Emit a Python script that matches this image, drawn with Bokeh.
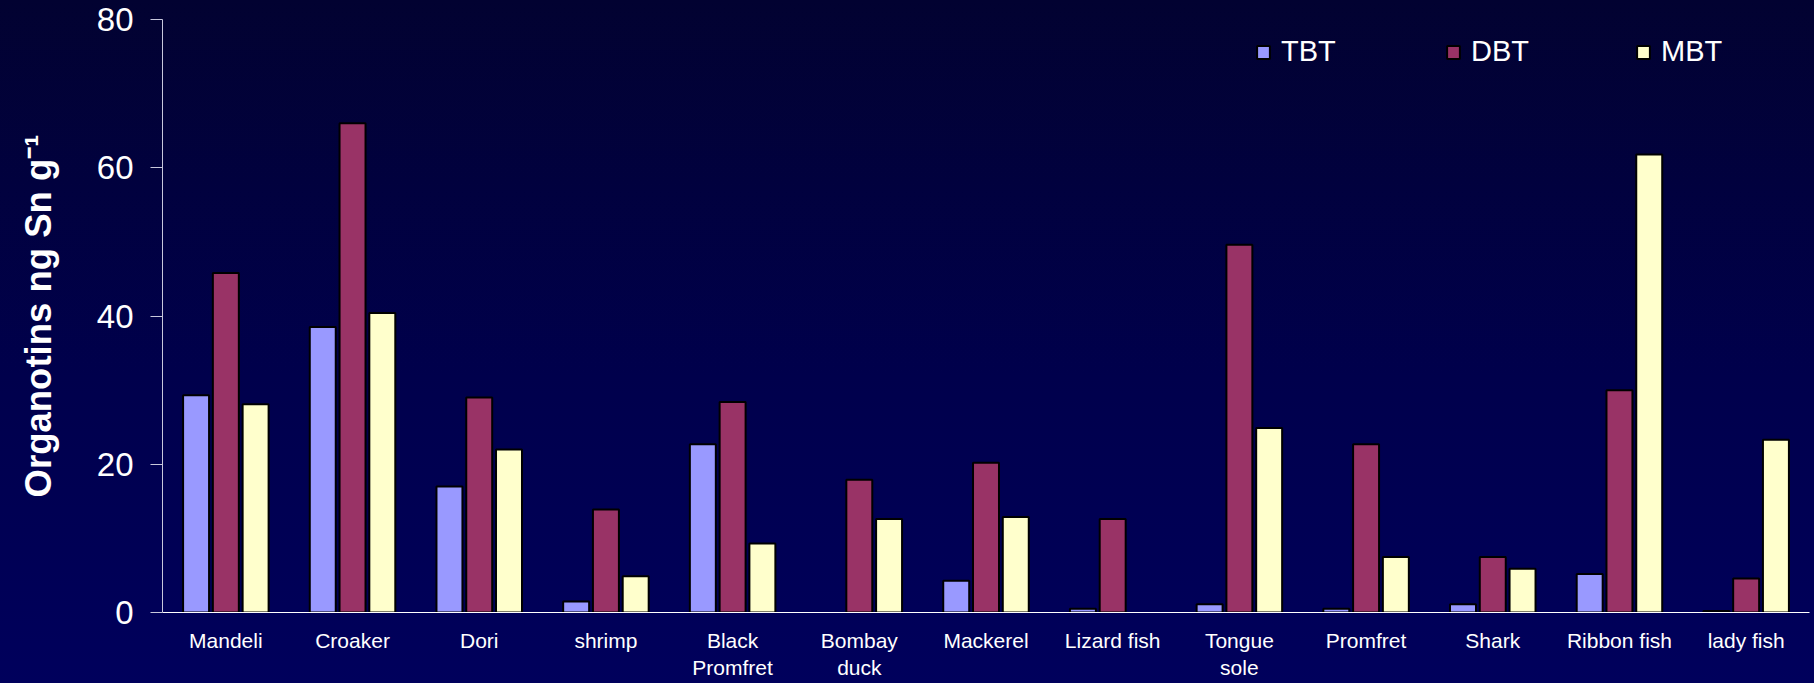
from bokeh.plotting import figure
from bokeh.models import ColumnDataSource, FactorRange, Range1d, Legend, LegendItem
from bokeh.transform import dodge
from bokeh.embed import file_html
from bokeh.resources import INLINE

# Organotin concentrations (ng Sn g-1) by species
categories = ["Mandeli", "Croaker", "Dori", "shrimp", "Black\nPromfret", "Bombay\nduck",
              "Mackerel", "Lizard fish", "Tongue\nsole", "Promfret", "Shark",
              "Ribbon fish", "lady fish"]
tbt = [29.3, 38.5, 17.0, 1.5, 22.7, 0.0, 4.3, 0.5, 1.1, 0.5, 1.1, 5.2, 0.2]
dbt = [45.8, 66.0, 29.0, 13.9, 28.4, 17.9, 20.2, 12.6, 49.6, 22.7, 7.5, 30.0, 4.6]
mbt = [28.1, 40.4, 22.0, 4.9, 9.3, 12.6, 12.9, 0.0, 24.9, 7.5, 5.9, 61.8, 23.3]
series_names = ["TBT", "DBT", "MBT"]
y_ticks = [0, 20, 40, 60, 80]

colors = {"TBT": "#9999ff", "DBT": "#993366", "MBT": "#ffffcc"}
offsets = {"TBT": -0.235, "DBT": 0.0, "MBT": 0.235}

data = {"cat": categories, "TBT": tbt, "DBT": dbt, "MBT": mbt}
for name in series_names:
    data[name + "_la"] = [1.0 if v > 0 else 0.0 for v in data[name]]
src = ColumnDataSource(data)

FONT = "Liberation Sans"

p = figure(width=1814, height=683, x_range=FactorRange(*categories, range_padding=0),
           y_range=Range1d(0, 80), output_backend="svg", toolbar_location=None,
           min_border_left=162, min_border_right=5, min_border_top=19, min_border_bottom=71)
p.styles = {"background": "linear-gradient(to bottom, #020231 0%, #00004c 55%, #00005c 100%)"}
p.border_fill_color = None
p.background_fill_color = None
p.outline_line_color = None
p.grid.grid_line_color = None

renderers = {}
for name in series_names:
    renderers[name] = p.vbar(x=dodge("cat", offsets[name], range=p.x_range), top=name,
                             width=0.205, source=src, fill_color=colors[name],
                             line_color="black", line_width=2, line_alpha=name + "_la")

# axes
ya = p.yaxis[0]
ya.ticker = y_ticks
ya.axis_line_color = "#c8c8dc"
ya.major_tick_line_color = "#c8c8dc"
ya.major_tick_out = 12
ya.major_tick_in = 0
ya.minor_tick_line_color = None
ya.major_label_text_color = "white"
ya.major_label_text_font = FONT
ya.major_label_text_font_size = "33px"
ya.major_label_standoff = 17
ya.axis_label = "Organotins ng Sn g\u207b\u00b9"
ya.axis_label_text_color = "white"
ya.axis_label_text_font = FONT
ya.axis_label_text_font_size = "36.5px"
ya.axis_label_text_font_style = "bold"
ya.axis_label_standoff = 35

xa = p.xaxis[0]
xa.axis_line_color = "white"
xa.major_tick_line_color = None
xa.minor_tick_line_color = None
xa.major_label_text_color = "white"
xa.major_label_text_font = FONT
xa.major_label_text_font_size = "21px"
xa.major_label_standoff = 10

legend = Legend(items=[LegendItem(label=n, renderers=[renderers[n]]) for n in series_names],
                orientation="horizontal", location=(1093, 544),
                glyph_width=16, glyph_height=16, label_standoff=10, label_width=160,
                spacing=4, padding=0, margin=0, border_line_color=None,
                background_fill_alpha=0, label_text_color="white",
                label_text_font=FONT, label_text_font_size="29px")
p.add_layout(legend)

open("out.html", "w").write(file_html(p, INLINE))
